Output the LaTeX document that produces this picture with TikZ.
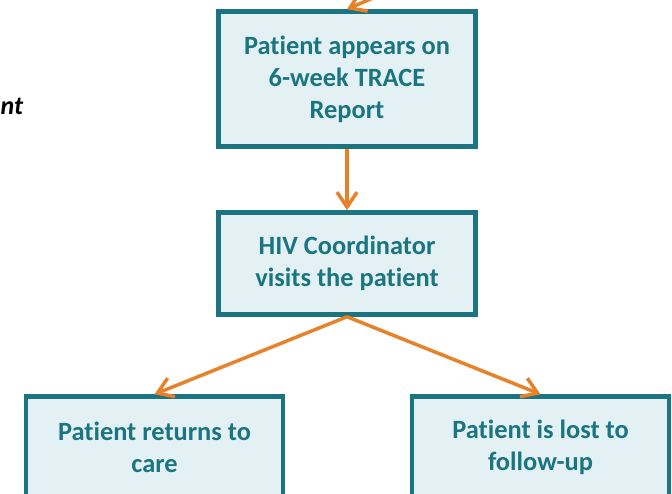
\documentclass[tikz,border=0pt]{standalone}
\usepackage{fontspec}
\setmainfont{Carlito}[Ligatures=CommonOff]
\usetikzlibrary{arrows.meta}
\definecolor{teal1}{HTML}{1B7480}
\definecolor{tealtext}{HTML}{1A7581}
\definecolor{boxfill}{HTML}{E4F1F4}
\definecolor{orng}{HTML}{E8822A}
\tikzset{
  flowbox/.style={draw=teal1, fill=boxfill, line width=4.5bp, text=tealtext,
    font=\fontsize{26.5}{32}\selectfont\bfseries, align=center,
    minimum width=257bp, inner sep=0pt},
  flowarrow/.style={draw=orng, line width=3.5bp,
    -{Straight Barb[length=15bp,width=20bp,line width=3.5bp]}},
}
\begin{document}
\begin{tikzpicture}[x=1bp,y=-1bp]
\useasboundingbox (0,0) rectangle (672,494);
\clip (0,0) rectangle (672,494);
\node[flowbox, minimum height=135bp] (report) at (347,79) {Patient appears on\\6-week TRACE\\Report};
\node[flowbox, minimum height=102bp] (visit) at (347,263.5) {HIV Coordinator\\visits the patient};
\node[flowbox, minimum height=102bp] (care) at (154.5,447.5) {Patient returns to\\care};
\node[flowbox, minimum height=102bp] (lost) at (540.5,447.5) {Patient is lost to\\follow-up};
\node[anchor=base west, inner sep=0pt, font=\fontsize{26}{30}\selectfont\bfseries\itshape] (cut) at (0.5,115) {nt};
\coordinate (src) at (414,-20);
\draw[flowarrow] (src) -- (report.north);
\draw[flowarrow] (report.south) -- (visit.north);
\draw[flowarrow] (visit.south) -- (care.north);
\draw[flowarrow] (visit.south) -- (lost.north);
\end{tikzpicture}
\end{document}
